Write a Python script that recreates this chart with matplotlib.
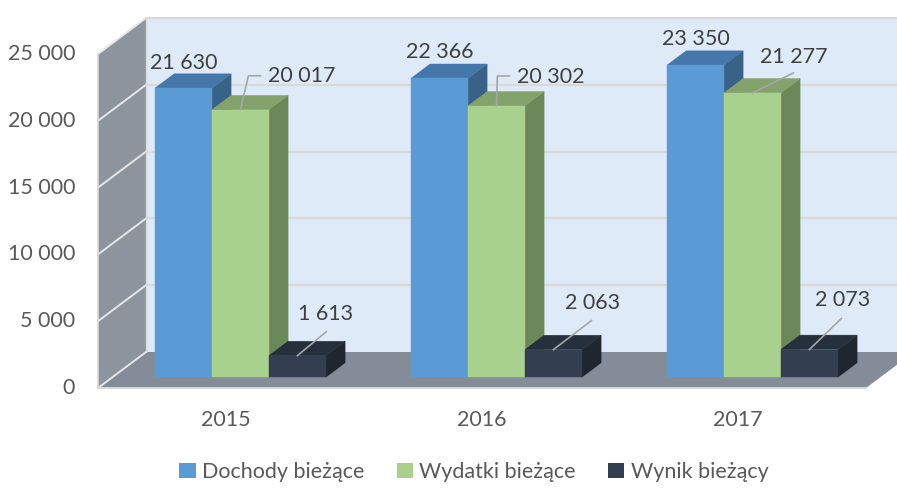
import matplotlib

matplotlib.use("Agg")
import matplotlib.pyplot as plt
from matplotlib.patches import Polygon, Patch

# --- data ---
years = ["2015", "2016", "2017"]
series_names = ["Dochody bieżące", "Wydatki bieżące", "Wynik bieżący"]
dochody = [21630, 22366, 23350]
wydatki = [20017, 20302, 21277]
wynik = [1613, 2063, 2073]
y_ticks = [0, 5000, 10000, 15000, 20000, 25000]

# --- styling / layout ---
front_cols = ["#5B9BD5", "#A9D18E", "#333F50"]
top_cols = ["#4677AA", "#84A26C", "#262F3C"]
side_cols = ["#386288", "#6B8958", "#1F2630"]
TXT = "#404040"
AX_TXT = "#595959"
FONT = ["Lato", "DejaVu Sans"]
FS = 15.5

W, H, DPI = 897, 488, 100
PX_CAT = 256.0          # pixels per category
PX_VAL = 334.0 / 25000  # pixels per value unit
X0_PX, Y0_PX = 98.0, 388.0  # front-left floor corner (x=-0.5, v=0)
DX = 48.0 / PX_CAT      # depth offset in category units
DY = 36.0 / PX_VAL      # depth offset in value units
Z0, Z1 = 0.3, 0.7       # bar depth range
BW = 57.0 / PX_CAT      # bar width
VMAX = 25000

# label offsets in pixels (right, up) relative to bar front-top centre
label_off = [
    [(0, 25), (0, 26), (0, 26)],
    [(61, 34), (54, 29), (41, 36)],
    [(28, 42), (39, 47), (33, 50)],
]
leader_pts = [
    [None, None, None],
    [[(8, 34), (20, 34)], [(1, 30), (13, 30)], [(41, 20)]],
    [[(29, 24)], [(38, 29)], [(32, 31)]],
]


def px(dx_px, dy_px):
    return dx_px / PX_CAT, dy_px / PX_VAL


fig = plt.figure(figsize=(W / DPI, H / DPI), dpi=DPI)
ax = fig.add_axes([0, 0, 1, 1])
ax.set_xlim(-0.5 - X0_PX / PX_CAT, -0.5 + (W - X0_PX) / PX_CAT)
ax.set_ylim(-(H - Y0_PX) / PX_VAL, Y0_PX / PX_VAL)
ax.axis("off")

xl, xr = -0.5, len(years) - 0.5
edge = "#D9D9D9"

# back wall
ax.add_patch(Polygon([(xl + DX, DY), (xr + DX, DY), (xr + DX, VMAX + DY), (xl + DX, VMAX + DY)],
                     closed=True, facecolor="#DEEAF7", edgecolor="none", zorder=1))
for v in y_ticks[1:]:
    ax.plot([xl + DX, xr + DX], [v + DY, v + DY], color=edge, lw=1.6, zorder=2)
ax.plot([xl + DX, xl + DX], [DY, VMAX + DY], color=edge, lw=1.2, zorder=2)

# side wall
ax.add_patch(Polygon([(xl, 0), (xl, VMAX), (xl + DX, VMAX + DY), (xl + DX, DY)],
                     closed=True, facecolor="#8C959E", edgecolor="none", zorder=3))
for v in y_ticks:
    ax.plot([xl, xl + DX], [v, v + DY], color="#E6E6E6", lw=1.4, zorder=4)
ax.plot([xl, xl], [0, VMAX], color=edge, lw=1.2, zorder=4)
ax.plot([xl + DX, xl + DX], [DY, VMAX + DY], color=edge, lw=1.0, zorder=4)

# floor
ax.add_patch(Polygon([(xl, 0), (xr, 0), (xr + DX, DY), (xl + DX, DY)],
                     closed=True, facecolor="#848C98", edgecolor="none", zorder=3))
ax.plot([xl, xr], [0, 0], color=edge, lw=1.4, zorder=4)

# bars
values = [dochody, wydatki, wynik]
z = 10
for i in range(len(years)):
    for s, vals in enumerate(values):
        v = vals[i]
        x1 = i + (s - 1.5) * BW
        x2 = x1 + BW
        fx1, fx2 = x1 + Z0 * DX, x2 + Z0 * DX
        by, ty = Z0 * DY, v + Z0 * DY
        bdx, bdy = (Z1 - Z0) * DX, (Z1 - Z0) * DY
        front = [(fx1, by), (fx2, by), (fx2, ty), (fx1, ty)]
        top = [(fx1, ty), (fx2, ty), (fx2 + bdx, ty + bdy), (fx1 + bdx, ty + bdy)]
        side = [(fx2, by), (fx2 + bdx, by + bdy), (fx2 + bdx, ty + bdy), (fx2, ty)]
        for poly, col in ((side, side_cols[s]), (top, top_cols[s]), (front, front_cols[s])):
            ax.add_patch(Polygon(poly, closed=True, facecolor=col, edgecolor=col,
                                 lw=0.3, zorder=z))
        z += 1

        # data label
        ax_x, ax_y = (fx1 + fx2) / 2, ty
        ox, oy = label_off[s][i]
        ddx, ddy = px(ox, oy)
        ax.text(ax_x + ddx, ax_y + ddy, f"{v:,}".replace(",", " "), ha="center",
                va="center", fontsize=FS, color=TXT, family=FONT, zorder=50)
        if leader_pts[s][i]:
            xs, ys = [ax_x], [ax_y]
            for lx, ly in leader_pts[s][i]:
                ddx, ddy = px(lx, ly)
                xs.append(ax_x + ddx)
                ys.append(ax_y + ddy)
            ax.plot(xs, ys, color="#A6A6A6", lw=1.2, zorder=49)

# axis labels
for v in y_ticks:
    ddx, _ = px(-23, 0)
    ax.text(xl + ddx, v, f"{v:,}".replace(",", " "), ha="right", va="center",
            fontsize=FS, color=AX_TXT, family=FONT)
for i, yr in enumerate(years):
    _, ddy = px(0, -32)
    ax.text(i, ddy, yr, ha="center", va="center", fontsize=FS, color=AX_TXT, family=FONT)

handles = [Patch(facecolor=c, edgecolor="none") for c in front_cols]
fig.legend(handles, series_names, loc="center", bbox_to_anchor=(474 / W, 1 - 472 / H),
           ncol=3, frameon=False, handlelength=0.75, handleheight=0.75,
           handletextpad=0.3, columnspacing=1.5,
           prop={"family": FONT, "size": FS}, labelcolor=AX_TXT)

fig.savefig("out.png", dpi=DPI)
